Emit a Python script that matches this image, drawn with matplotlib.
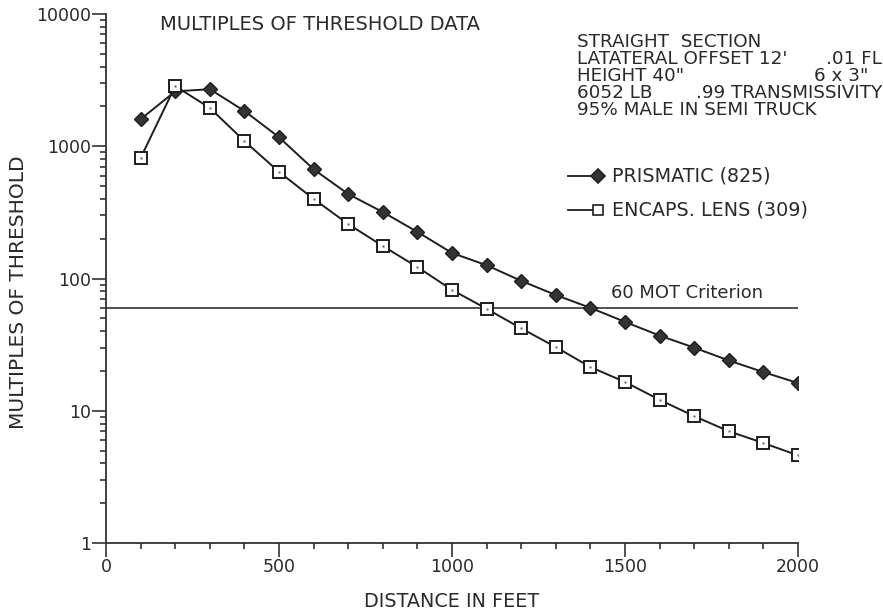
import matplotlib.pyplot as plt
import numpy as np
from matplotlib.ticker import FixedLocator, LogLocator, NullFormatter

plt.rcParams['font.family'] = ['DejaVu Sans']

# distance from the sign, feet
distance = [100, 200, 300, 400, 500, 600, 700, 800, 900, 1000,
            1100, 1200, 1300, 1400, 1500, 1600, 1700, 1800, 1900, 2000]

# multiples of threshold luminance
prismatic = [1600, 2600, 2700, 1850, 1170, 670, 435, 318, 225, 156,
             126, 96, 75, 60, 47, 37, 30, 24, 19.6, 16.2]
encaps_lens = [815, 2850, 1950, 1095, 640, 400, 258, 176, 122, 82,
               59, 42, 30.3, 21.4, 16.5, 12.1, 9.1, 7.0, 5.7, 4.6]

criterion = 60

info_lines = ["STRAIGHT  SECTION",
              "LATATERAL OFFSET 12'",
              "HEIGHT 40\"",
              "6052 LB",
              "95% MALE IN SEMI TRUCK"]
info_right = [(1, ".01 FL", 882), (2, "6 x 3\"", 868), (3, ".99 TRANSMISSIVITY", 882)]

fig = plt.figure(figsize=(8.83, 6.12), dpi=100)
W, H = 883, 612
ax = fig.add_axes([106 / W, 1 - 543 / H, (798 - 106) / W, (543 - 14) / H])

ink = '#2a2a2a'

ax.plot(distance, prismatic, color='#1e1e1e', lw=1.4, marker='D', ms=7,
        mfc='#333333', mec='#1e1e1e', zorder=3)
ax.plot(distance, encaps_lens, color='#1e1e1e', lw=1.4, marker='s', ms=9,
        mfc='white', mec='#1e1e1e', mew=1.4, zorder=3)
# tiny dot in the centre of each open square
ax.plot(distance, encaps_lens, ls='none', marker='.', ms=1.5, color='#777777', zorder=4)

ax.plot([0, 2000], [criterion, criterion], color='#333333', lw=1.2, zorder=2)
ax.text(1460, criterion * 1.1, "60 MOT Criterion", fontsize=12.9, color=ink,
        ha='left', va='bottom')

ax.set_yscale('log')
ax.set_xlim(0, 2000)
ax.set_ylim(1, 10000)

ax.xaxis.set_major_locator(FixedLocator([0, 500, 1000, 1500, 2000]))
ax.xaxis.set_minor_locator(FixedLocator(np.arange(0, 2001, 100)))
ax.set_yticks([1, 10, 100, 1000, 10000])
ax.set_yticklabels(['1', '10', '100', '1000', '10000'])
ax.yaxis.set_minor_locator(LogLocator(base=10, subs=np.arange(2, 10)))
ax.yaxis.set_minor_formatter(NullFormatter())

for s in ['top', 'right']:
    ax.spines[s].set_visible(False)
for s in ['left', 'bottom']:
    ax.spines[s].set_linewidth(1.3)
    ax.spines[s].set_color('#333333')

ax.tick_params(which='major', direction='out', length=10, width=1.2,
               color='#333333', labelsize=12.5, labelcolor=ink, pad=1)
ax.tick_params(which='minor', direction='out', length=4, width=1.2, color='#333333')

ax.set_xlabel("DISTANCE IN FEET", fontsize=13.8, color=ink, labelpad=11)
ax.set_ylabel("MULTIPLES OF THRESHOLD", fontsize=14.5, color=ink)
ax.yaxis.set_label_coords(-0.112, 0.475)

fig.text(160 / W, 1 - 25 / H, "MULTIPLES OF THRESHOLD DATA", fontsize=14,
         color=ink, ha='left', va='center')

for i, line in enumerate(info_lines):
    fig.text(577 / W, 1 - (42 + 17 * i) / H, line, fontsize=13.2, color=ink,
             ha='left', va='center')
for i, txt, xpx in info_right:
    fig.text(xpx / W, 1 - (42 + 17 * i) / H, txt, fontsize=13.2, color=ink,
             ha='right', va='center')

# legend drawn by hand in figure coordinates
legend_items = [("PRISMATIC (825)", 'D', '#333333', 7),
                ("ENCAPS. LENS (309)", 's', 'white', 7.5)]
for i, (label, mk, fc, ms) in enumerate(legend_items):
    yf = 1 - (176 + 34 * i) / H
    fig.add_artist(plt.Line2D([568 / W, 598 / W], [yf, yf], color='#1e1e1e', lw=1.3,
                              marker=mk, markevery=[1], ms=ms, mfc=fc, mec='#1e1e1e',
                              mew=1.2, transform=fig.transFigure))
    fig.text(612 / W, yf, label, fontsize=13.8, color=ink, ha='left', va='center')

fig.savefig('out.png', dpi=100)
